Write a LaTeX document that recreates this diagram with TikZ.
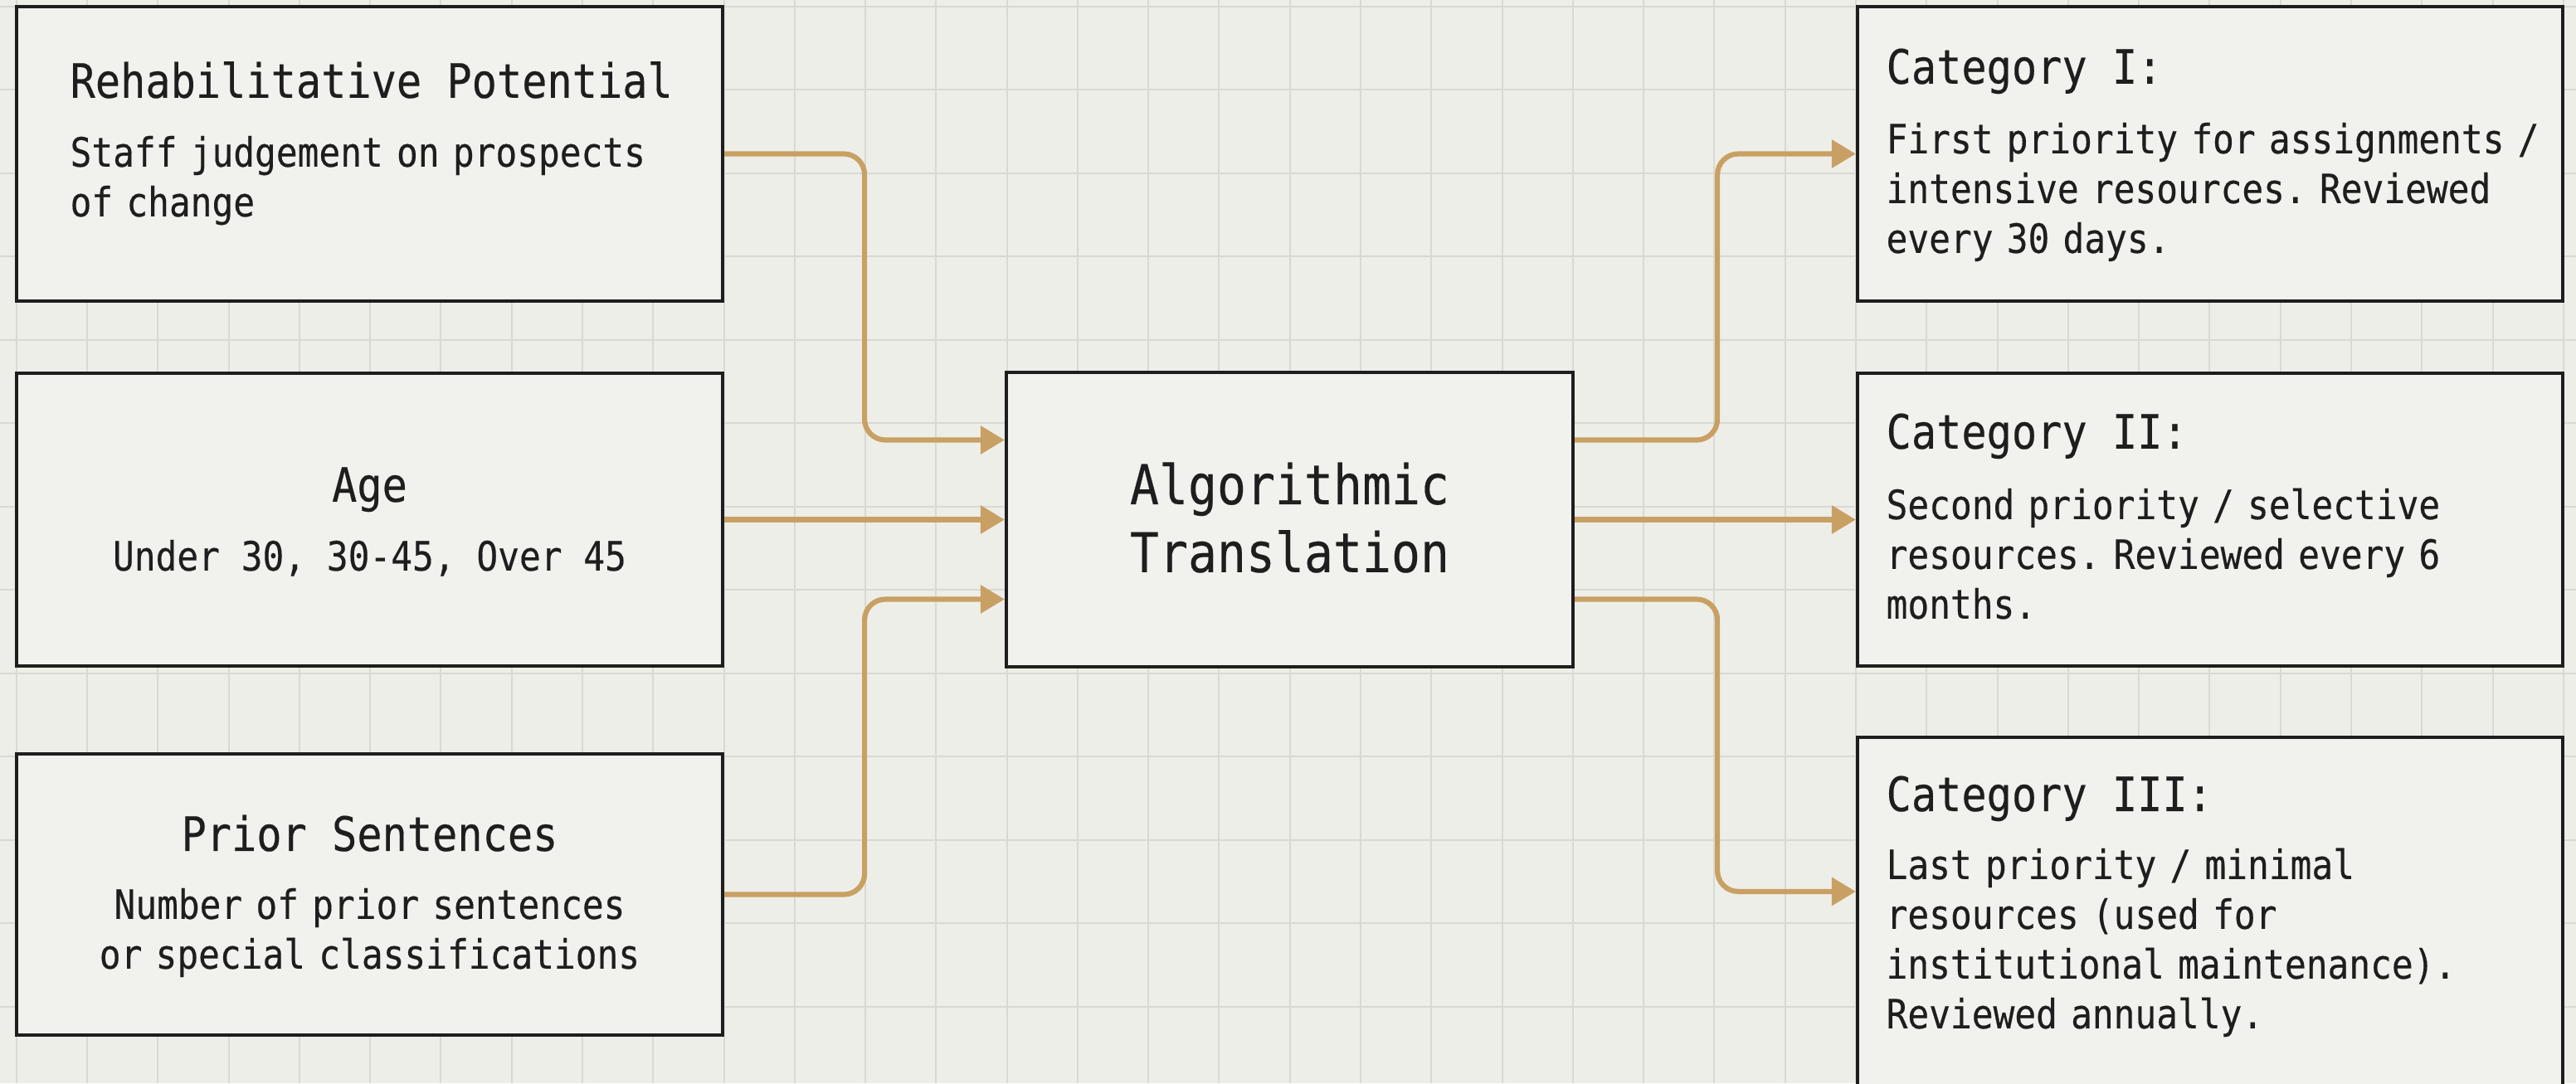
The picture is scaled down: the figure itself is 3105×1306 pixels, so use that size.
\documentclass[tikz,border=0pt]{standalone}
\usepackage{fontspec}
\setmainfont{DejaVu Sans Mono}[FakeStretch=0.88, FakeBold=0.3, Ligatures=NoCommon]
\usetikzlibrary{arrows.meta,calc}

\definecolor{paper}{HTML}{EEEEE9}
\definecolor{cardfill}{HTML}{F1F1ED}
\definecolor{gridgray}{HTML}{D9D9D3}
\definecolor{flowtan}{HTML}{C9A063}
\definecolor{ink}{HTML}{1E1E1E}

% every space one glyph wide
\newcommand\evenspaces{\frenchspacing\spaceskip=\fontcharwd\font`\a\relax}

\tikzset{
  card/.style={draw=ink, line width=0.42mm, fill=cardfill, rectangle, inner sep=0pt, minimum width=85.1mm},
  ttl/.style={inner sep=0pt, text=ink, font=\fontsize{16.25}{20}\selectfont\evenspaces},
  body/.style={inner sep=0pt, text=ink, font=\fontsize{13.85}{17.07}\selectfont\evenspaces},
  flow/.style={draw=flowtan, line width=0.62mm, rounded corners=2.5mm, -{Triangle[length=2.9mm,width=3.3mm]}},
}

\begin{document}
\begin{tikzpicture}[x=0.1mm, y=-0.1mm]

% paper and grid
\path[use as bounding box, fill=paper] (0,0) rectangle (3105,1306);
\clip (0,0) rectangle (3105,1306);
\foreach \i in {0,...,36} \draw[gridgray, line width=0.2mm] ({19.7+85.28*\i},0) -- ++(0,1306);
\foreach \j in {0,...,12} \draw[gridgray, line width=0.2mm] (0,{7.5+100.5*\j}) -- ++(3105,0);

% input cards
\node[card, minimum height=35.5mm] (l1) at (445.5,185.5) {};
\node[card, minimum height=35.3mm] (l2) at (445.5,626.5) {};
\node[card, minimum height=33.9mm] (l3) at (445.5,1078.5) {};

% translation step
\node[card, minimum width=68.3mm, minimum height=35.5mm] (ctr) at (1554.5,626.5) {};

% output categories
\node[card, minimum width=85mm, minimum height=35.5mm] (r1) at (2664,185.5) {};
\node[card, minimum width=85mm, minimum height=35.3mm] (r2) at (2664,626.5) {};
\node[card, minimum width=85mm, minimum height=51.1mm] (r3) at (2664,1144.5) {};

% texts
\node[ttl, anchor=base west] (l1t) at ($(l1.north west)+(66,112)$) {Rehabilitative Potential};
\node[body, anchor=base west, text width=76mm, align=left] (l1b) at ($(l1t.base west)+(0,83)$) {Staff judgement on prospects\\of change};
\node[ttl, anchor=base] (l2t) at ($(l2.north)+(0,157)$) {Age};
\node[body, anchor=base] (l2b) at ($(l2t.base)+(0,83)$) {Under 30, 30-45, Over 45};
\node[ttl, anchor=base] (l3t) at ($(l3.north)+(0,119)$) {Prior Sentences};
\node[body, anchor=base, text width=78mm, align=center] (l3b) at ($(l3t.base)+(0,82)$) {Number of prior sentences\\or special classifications};

\node[ttl, font=\fontsize{18.8}{23.3}\selectfont, anchor=base, text width=60mm, align=center] (ctrt) at ($(ctr.north)+(0,161)$) {Algorithmic\\Translation};

\node[ttl, anchor=base west] (r1t) at ($(r1.north west)+(36,95)$) {Category I:};
\node[body, anchor=base west, text width=88mm, align=left] (r1b) at ($(r1t.base west)+(0,84)$) {First priority for assignments /\\intensive resources. Reviewed\\every 30 days.};
\node[ttl, anchor=base west] (r2t) at ($(r2.north west)+(36,93)$) {Category II:};
\node[body, anchor=base west, text width=88mm, align=left] (r2b) at ($(r2t.base west)+(0,85)$) {Second priority / selective\\resources. Reviewed every 6\\months.};
\node[ttl, anchor=base west] (r3t) at ($(r3.north west)+(36,91)$) {Category III:};
\node[body, anchor=base west, text width=88mm, align=left] (r3b) at ($(r3t.base west)+(0,82)$) {Last priority / minimal\\resources (used for\\institutional maintenance).\\Reviewed annually.};

% connectors
\draw[flow] (l1.east) -- ++(169,0) |- ($(ctr.west)+(0,-96)$);
\draw[flow] (l2.east) -- (ctr.west);
\draw[flow] (l3.east) -- ++(169,0) |- ($(ctr.west)+(0,96)$);
\draw[flow] ($(ctr.east)+(0,-96)$) -- ++(172,0) |- (r1.west);
\draw[flow] (ctr.east) -- (r2.west);
\draw[flow] ($(ctr.east)+(0,96)$) -- ++(172,0) |- ($(r3.north west)+(0,188)$);

\end{tikzpicture}
\end{document}
